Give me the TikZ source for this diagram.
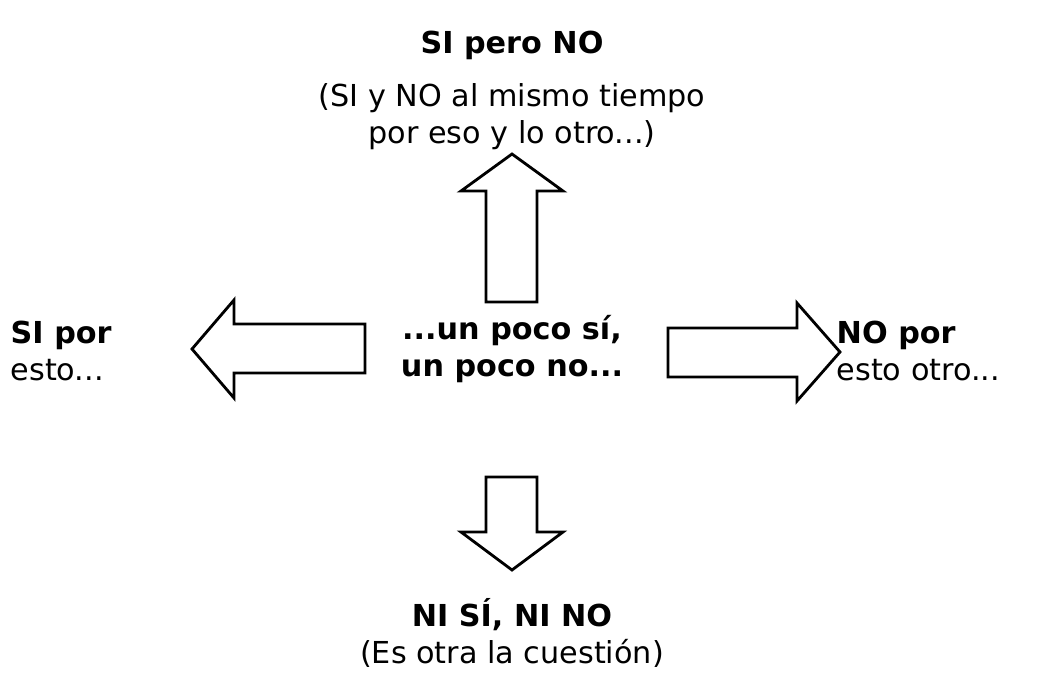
\documentclass[tikz,border=0pt]{standalone}
\usepackage{fontspec}
\setmainfont{DejaVu Sans}
\tikzset{
  flecha/.style={draw=black,fill=white,line width=0.8pt,line join=miter},
  texto/.style={font=\fontsize{8.6}{10.6}\selectfont,inner sep=0pt},
}
\begin{document}
\begin{tikzpicture}[x=0.01cm,y=-0.01cm]
		\useasboundingbox (0,0) rectangle (1048,675);
		% flechas
		\draw[flecha] (486,302)--(486,191)--(461,191)--(512,154)--(563,191)--(537,191)--(537,302)--cycle;
		\draw[flecha] (486,477)--(486,532)--(461,532)--(512,570)--(563,532)--(537,532)--(537,477)--cycle;
		\draw[flecha] (365,324)--(234,324)--(234,300)--(192,349)--(234,398)--(234,373)--(365,373)--cycle;
		\draw[flecha] (668,328)--(797,328)--(797,303)--(840,352)--(797,401)--(797,377)--(668,377)--cycle;
		% textos
		\node[texto,align=center] (centro) at (512,349) {\textbf{...un poco sí,}\\\textbf{un poco no...}};
		\node[texto] (arribatit) at (512,45) {\textbf{SI pero NO}};
		\node[texto,align=center] (arriba) at (512,117) {(SI y NO al mismo tiempo\\por eso y lo otro...)};
		\node[texto,align=left,anchor=west] (izq) at (10,351) {\textbf{SI por}\\esto...};
		\node[texto,align=left,anchor=west] (der) at (836,351) {\textbf{NO por}\\esto otro...};
		\node[texto] (abajotit) at (512,615) {\textbf{NI SÍ, NI NO}};
		\node[texto] (abajo) at (512,653) {(Es otra la cuestión)};
\end{tikzpicture}
\end{document}
